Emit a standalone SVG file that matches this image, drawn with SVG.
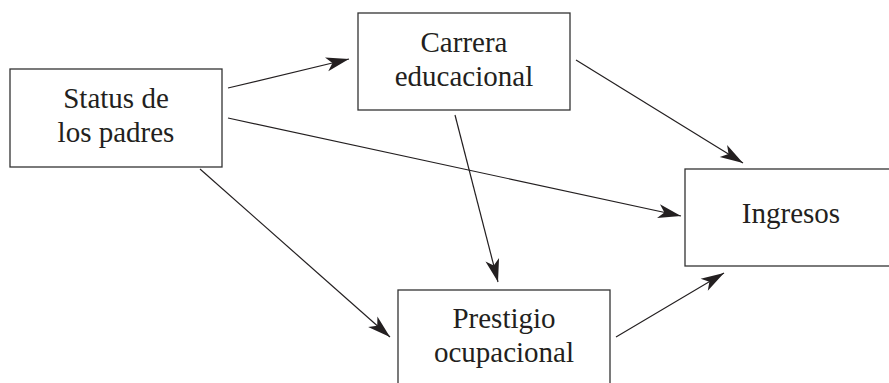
<svg xmlns="http://www.w3.org/2000/svg" width="889" height="383" viewBox="0 0 889 383">
<style>
.box{fill:#fff;stroke:#333;stroke-width:1.3}
.t{font-family:"Liberation Serif","Times New Roman",serif;font-size:29px;fill:#231f20;text-anchor:middle}
.c{fill:none;stroke:#231f20;stroke-width:1.2}
</style>
<defs>
<marker id="ah" markerUnits="userSpaceOnUse" markerWidth="30" markerHeight="20" viewBox="-24 -10 30 20" refX="0" refY="0" orient="auto">
<path d="M0,0 L-23,-7 L-17,0 L-23,7 Z" fill="#231f20"/>
</marker>
</defs>
<rect width="889" height="383" fill="#fff"/>
<g id="connectors">
<line class="c" x1="228" y1="88" x2="349" y2="59" marker-end="url(#ah)"/>
<line class="c" x1="228" y1="118" x2="681" y2="216" marker-end="url(#ah)"/>
<line class="c" x1="200" y1="169" x2="390" y2="337" marker-end="url(#ah)"/>
<line class="c" x1="576" y1="60" x2="743" y2="163" marker-end="url(#ah)"/>
<line class="c" x1="455" y1="115" x2="498" y2="282" marker-end="url(#ah)"/>
<line class="c" x1="616" y1="337" x2="724" y2="273" marker-end="url(#ah)"/>
</g>
<g id="status">
<rect class="box" x="10" y="69" width="212" height="98"/>
<text class="t" x="116" y="108">Status de</text>
<text class="t" x="116" y="142">los padres</text>
</g>
<g id="carrera">
<rect class="box" x="358" y="13" width="212" height="97"/>
<text class="t" x="464" y="52">Carrera</text>
<text class="t" x="464" y="86">educacional</text>
</g>
<g id="ingresos">
<rect class="box" x="685" y="169" width="212" height="97"/>
<text class="t" x="791" y="223">Ingresos</text>
</g>
<g id="prestigio">
<rect class="box" x="398" y="290" width="212" height="97"/>
<text class="t" x="504" y="328">Prestigio</text>
<text class="t" x="504" y="362">ocupacional</text>
</g>
</svg>
